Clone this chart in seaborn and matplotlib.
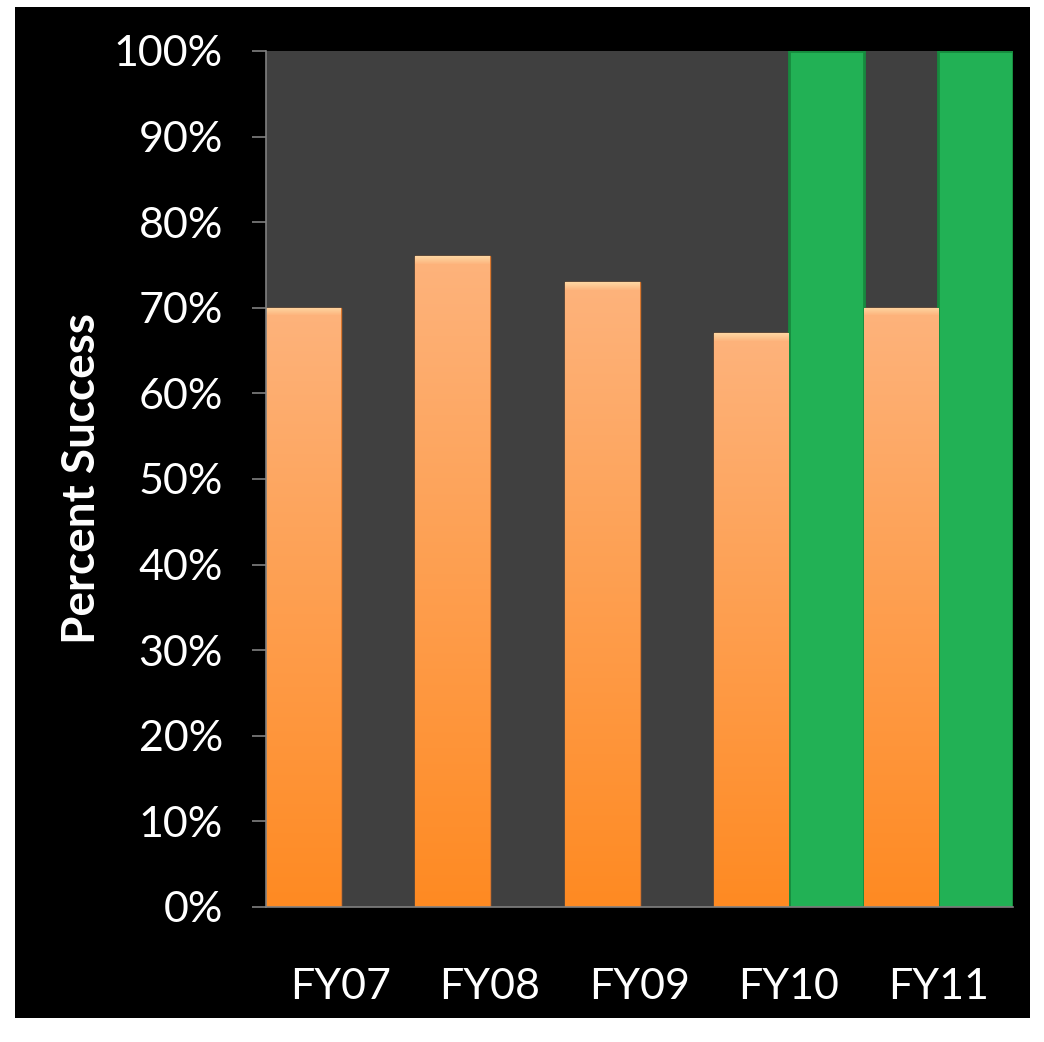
import numpy as np
import pandas as pd
import matplotlib
matplotlib.use("Agg")
import matplotlib.pyplot as plt
from matplotlib.patches import Rectangle
from matplotlib.colors import to_rgb
import seaborn as sns

# ---- data ----
categories = ["FY07", "FY08", "FY09", "FY10", "FY11"]
series_names = ["Actual", "Target"]
actual_values = [70, 76, 73, 67, 70]
target_values = [0, 0, 0, 100, 100]
y_ticks = [0, 10, 20, 30, 40, 50, 60, 70, 80, 90, 100]
y_tick_labels = [f"{v}%" for v in y_ticks]
y_label = "Percent Success"

df = pd.DataFrame({
    "cat": categories * 2,
    "series": [series_names[0]] * len(categories) + [series_names[1]] * len(categories),
    "value": actual_values + target_values,
})

sns.set_theme(style="dark")
plt.rcParams["font.family"] = ["Lato", "DejaVu Sans"]

W, H = 1044, 1042
fig = plt.figure(figsize=(W / 100, H / 100), dpi=100, facecolor="white")
# black panel
fig.patches.append(Rectangle((15 / W, 1 - 1018 / H), (1030 - 15) / W, (1018 - 7) / H,
                             transform=fig.transFigure, facecolor="black", edgecolor="none", zorder=-10))

ax = fig.add_axes([266 / W, 1 - 907 / H, (1013 - 266) / W, (907 - 51) / H])
ax.set_zorder(1)
ax.set_facecolor("#404040")

orange = "#FE9E55"
green = "#22B155"
sns.barplot(data=df, x="cat", y="value", hue="series", order=categories,
            hue_order=series_names, palette=[orange, green], width=1.0,
            saturation=1.0, legend=False, ax=ax, edgecolor="none", linewidth=0)

ax.set_ylim(0, 100)
ax.set_xlim(-0.5, len(categories) - 0.5)

# gradient styling for orange bars, bevel for green ones
n_cat = len(categories)
top_c = np.array(to_rgb("#FDB37C"))
bot_c = np.array(to_rgb("#FF8A22"))
hl_c = np.array(to_rgb("#FFE2AE"))
px_per_unit = (907 - 51) / 100.0
for i, p in enumerate(ax.patches[:n_cat]):
    x0, w, h = p.get_x(), p.get_width(), p.get_height()
    if h <= 0:
        continue
    npx = max(int(h * px_per_unit), 10)
    t = np.linspace(0, 1, npx)[:, None]  # 0 top -> 1 bottom
    grad = top_c * (1 - t) + bot_c * t
    fade = np.linspace(0.75, 0.1, 8)[:, None]
    grad[:8] = hl_c * fade + grad[:8] * (1 - fade)
    img = np.repeat(grad[:, None, :], 2, axis=1).reshape(npx, 2, 3)
    im = ax.imshow(img, extent=(x0, x0 + w, 0, h), aspect="auto", zorder=p.get_zorder() + 0.1,
                   interpolation="bilinear")
    im.set_clip_path(p)
    p.set_edgecolor("#D9772E")
    p.set_linewidth(1.0)

for p in ax.patches[n_cat:2 * n_cat]:
    if p.get_height() > 0:
        p.set_edgecolor("#178A3E")
        p.set_linewidth(2.0)

ax.set_ylim(0, 100)
ax.set_xlim(-0.5, len(categories) - 0.5)
ax.set_yticks(y_ticks)
ax.set_yticklabels(y_tick_labels)
ax.tick_params(axis="y", colors="#808080", length=10, width=1.2, pad=21,
               labelcolor="white", labelsize=31, left=True)
ax.tick_params(axis="x", length=0, pad=44, labelcolor="white", labelsize=31)
for lab in ax.get_yticklabels() + ax.get_xticklabels():
    lab.set_color("white")

ax.set_xlabel("")
ax.set_ylabel(y_label, color="white", fontsize=33, fontweight="bold")
ax.yaxis.set_label_coords(-0.218, 0.5)

for s in ["top", "right"]:
    ax.spines[s].set_visible(False)
for s in ["left", "bottom"]:
    ax.spines[s].set_visible(True)
    ax.spines[s].set_color("#808080")
    ax.spines[s].set_linewidth(1.2)
ax.grid(False)

fig.savefig("out.png", dpi=100, facecolor="white")
